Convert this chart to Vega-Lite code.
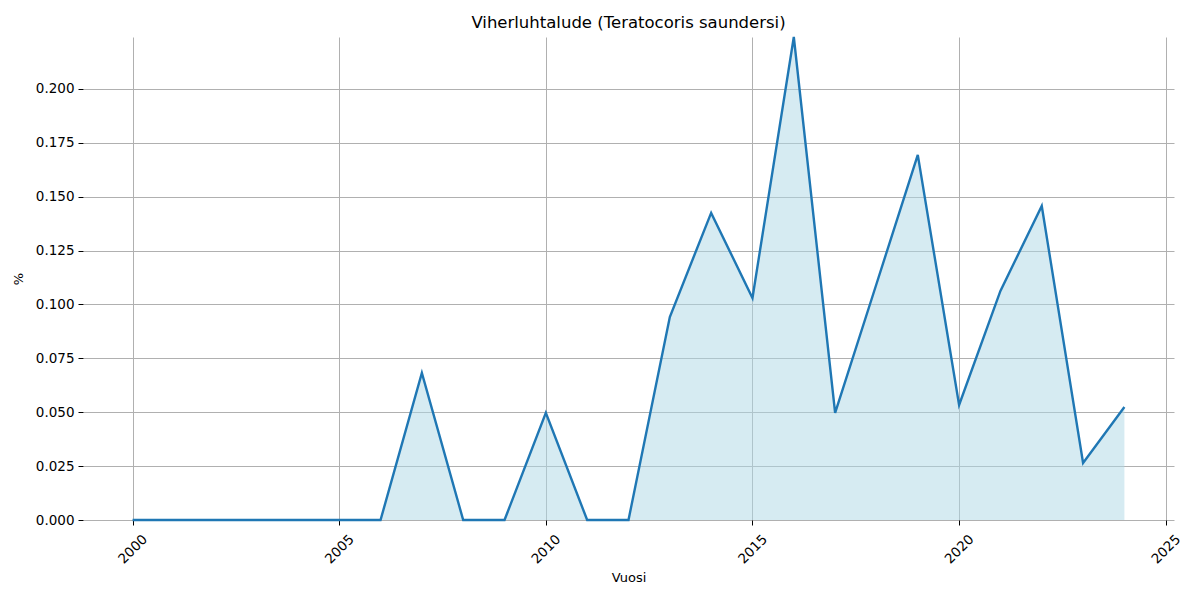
{
  "$schema": "https://vega.github.io/schema/vega-lite/v6.json",
  "width": 1091,
  "height": 483,
  "autosize": "none",
  "padding": {"left": 83, "top": 37, "right": 26, "bottom": 80},
  "background": "white",
  "title": {"text": "Viherluhtalude (Teratocoris saundersi)", "font": "DejaVu Sans", "fontSize": 16.5, "fontWeight": "normal", "color": "black", "offset": 1},
  "config": {
    "view": {"stroke": null},
    "axis": {"labelFont": "DejaVu Sans", "titleFont": "DejaVu Sans", "labelFontSize": 13.5, "titleFontSize": 13, "titleFontWeight": "normal", "labelColor": "black", "titleColor": "black", "gridColor": "#b0b0b0", "gridWidth": 1, "gridOpacity": 1, "domain": false, "tickColor": "black", "tickSize": 5}
  },
  "data": {"values": [
    {"Vuosi": 2000, "p": 0}, {"Vuosi": 2001, "p": 0}, {"Vuosi": 2002, "p": 0}, {"Vuosi": 2003, "p": 0},
    {"Vuosi": 2004, "p": 0}, {"Vuosi": 2005, "p": 0}, {"Vuosi": 2006, "p": 0}, {"Vuosi": 2007, "p": 0.0682},
    {"Vuosi": 2008, "p": 0}, {"Vuosi": 2009, "p": 0}, {"Vuosi": 2010, "p": 0.0497}, {"Vuosi": 2011, "p": 0},
    {"Vuosi": 2012, "p": 0}, {"Vuosi": 2013, "p": 0.0942}, {"Vuosi": 2014, "p": 0.1425}, {"Vuosi": 2015, "p": 0.1030},
    {"Vuosi": 2016, "p": 0.2241}, {"Vuosi": 2017, "p": 0.0497}, {"Vuosi": 2018, "p": 0.1095}, {"Vuosi": 2019, "p": 0.1694},
    {"Vuosi": 2020, "p": 0.0534}, {"Vuosi": 2021, "p": 0.1063}, {"Vuosi": 2022, "p": 0.1457}, {"Vuosi": 2023, "p": 0.0265},
    {"Vuosi": 2024, "p": 0.0524}
  ]},
  "encoding": {
    "x": {"field": "Vuosi", "type": "quantitative", "title": "Vuosi",
      "scale": {"domain": [1998.8, 2025.2], "nice": false, "zero": false},
      "axis": {"values": [2000, 2005, 2010, 2015, 2020, 2025], "format": "d", "labelAngle": -45, "labelAlign": "center", "labelBaseline": "middle", "labelPadding": 24, "titlePadding": 6}},
    "y": {"field": "p", "type": "quantitative", "title": "%",
      "scale": {"domain": [0, 0.2241], "nice": false},
      "axis": {"values": [0, 0.025, 0.05, 0.075, 0.1, 0.125, 0.15, 0.175, 0.2], "format": ".3f", "labelPadding": 4, "titlePadding": 10}}
  },
  "layer": [
    {"mark": {"type": "area", "color": "#add8e6", "opacity": 0.5}},
    {"mark": {"type": "line", "color": "#1f77b4", "strokeWidth": 2.4}}
  ]
}
